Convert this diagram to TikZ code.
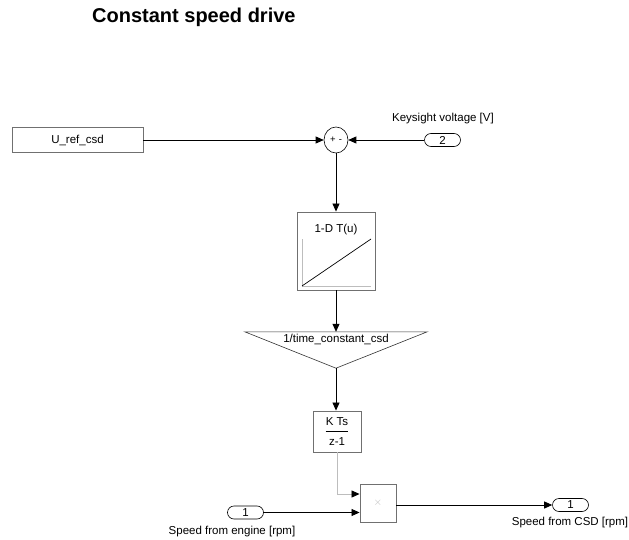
\documentclass[tikz,border=0pt]{standalone}
\usepackage{fontspec}
\setmainfont{Liberation Sans}
\usetikzlibrary{arrows.meta,calc,positioning,shapes.geometric}
\definecolor{edge}{HTML}{707070}
\definecolor{faint}{HTML}{BDBDBD}
\definecolor{ink}{HTML}{000000}
\newcommand\labfont{\fontsize{11.5}{13}\selectfont}
\newcommand\titlefont{\bfseries\fontsize{20}{24}\selectfont}

\begin{document}
\begin{tikzpicture}[x=1pt,y=-1pt,
  blk/.style={draw=edge,line width=0.9pt,fill=white,inner sep=0pt},
  port/.style={draw=ink,line width=0.6pt,rounded corners=6.5pt,minimum width=36pt,minimum height=13pt,inner sep=0pt,font=\labfont},
  sig/.style={-{Triangle[length=8pt,width=7pt]},draw=ink,line width=0.8pt},
  lab/.style={font=\labfont,inner sep=0pt}]
\useasboundingbox (0,0) rectangle (629,540);

% ---------- title ----------
\node[lab,font=\titlefont,anchor=base west] (title) at (92,23) {Constant speed drive};

% ---------- reference vs. measured voltage ----------
\node[blk,lab,minimum width=131pt,minimum height=25pt] (uref) at (77.5,140) {U\_ref\_csd};
\node[ellipse,draw=ink,line width=0.6pt,minimum width=24pt,minimum height=26pt,inner sep=0pt,font=\fontsize{9.5}{9.5}\selectfont] (sum) at (336,140) {+\,\,-};
\node[port] (kv) at (442.5,140) {2};
\node[lab] (kvlab) at (443,119) {Keysight voltage [V]};
\draw[sig] (uref) -- (sum);
\draw[sig] (kv) -- (sum);

% ---------- lookup table ----------
\node[blk,minimum width=78pt,minimum height=78pt] (lut) at (336,251) {};
\node[lab] (luttxt) at (336,230) {1-D T(u)};
\draw[faint,line width=0.8pt] (302,239) -- (302,286) -- (371,286);
\draw[line width=0.7pt] (302,286) -- (371,239);
\draw[sig] (sum) -- (lut);

% ---------- gain ----------
\node[minimum width=182pt,minimum height=36pt,inner sep=0pt] (gain) at (336,350) {};
\draw[draw=ink!80,line width=0.6pt] (gain.north west) -- (gain.north east) -- (gain.south) -- cycle;
\node[lab] (gaintxt) at (336,339) {1/time\_constant\_csd};
\draw[sig] (lut) -- (gain.north);

% ---------- discrete integrator ----------
\node[blk,minimum width=48pt,minimum height=41pt] (intg) at (337,431.5) {};
\node[lab] (kts) at (337,422) {K Ts};
\node[lab] (zm) at (337,442) {z-1};
\draw[line width=0.6pt] (kts.west |- 0,431) -- (kts.east |- 0,431);
\draw[sig] (gain.south) -- (gain.south |- intg.north);

% ---------- product and ports ----------
\node[blk,minimum width=36pt,minimum height=38pt,text=faint,font=\fontsize{11}{11}\selectfont] (prod) at (378,503) {$\times$};
\node[port] (ip) at (245.5,512.5) {1};
\node[lab] (iplab) at (232,532) {Speed from engine [rpm]};
\node[port] (op) at (570.5,505) {1};
\node[lab] (oplab) at (570,523) {Speed from CSD [rpm]};
\draw[faint,line width=0.8pt,-{Triangle[length=8pt,width=7pt,color=ink]}] (intg.south) |- ($(prod.west)+(0,-9)$);
\draw[sig] (ip) -- (ip -| prod.west);
\draw[sig] (prod.east |- op) -- (op);
\end{tikzpicture}
\end{document}
